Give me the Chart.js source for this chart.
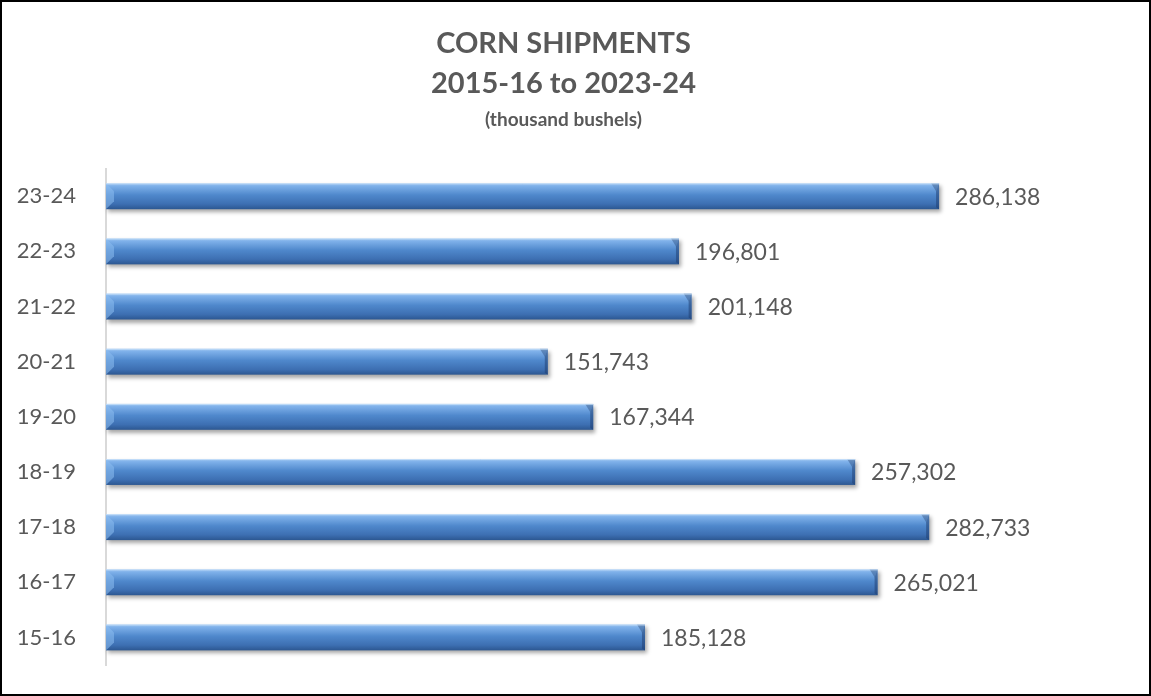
<!DOCTYPE html>
<html>
<head>
<meta charset="utf-8">
<script src="https://cdn.jsdelivr.net/npm/chart.js@4/dist/chart.umd.min.js"></script>
<style>
    html, body { margin: 0; padding: 0; background: #fff; }
    .frame {
        width: 1151px;
        height: 696px;
        box-sizing: border-box;
        border: 2px solid #000;
        background: #fff;
    }
    .frame canvas { display: block; }
</style>
</head>
<body>
<div class="frame">
    <canvas id="cornChart" width="1147" height="692"></canvas>
</div>
<script>
// Marketing years, oldest first (axis is reversed so 23-24 sits on top)
const seasons = ['15-16', '16-17', '17-18', '18-19', '19-20', '20-21', '21-22', '22-23', '23-24'];
const shipments = [185128, 265021, 282733, 257302, 167344, 151743, 201148, 196801, 286138];

const titleLines = ['CORN SHIPMENTS', '2015-16 to 2023-24'];
const subtitleText = '(thousand bushels)';

const textColor = '#595959';
const fontFamily = 'Lato, "Open Sans", sans-serif';

// Draws the glossy bevelled bars and the value labels next to them
const glossyBars = {
    id: 'glossyBars',
    afterDatasetsDraw(chart) {
        const ctx = chart.ctx;
        const meta = chart.getDatasetMeta(0);

        meta.data.forEach((bar, i) => {
            const { x, y, base, height } = bar.getProps(['x', 'y', 'base', 'height'], true);
            const left = Math.min(base, x);
            const right = Math.max(base, x);
            const top = y - height / 2;
            const w = right - left;

            ctx.save();
            // soft drop shadow
            ctx.shadowColor = 'rgba(0, 0, 0, 0.35)';
            ctx.shadowBlur = 4;
            ctx.shadowOffsetX = 2;
            ctx.shadowOffsetY = 3;

            const grad = ctx.createLinearGradient(0, top, 0, top + height);
            grad.addColorStop(0, '#a8ccf2');
            grad.addColorStop(0.1, '#7fb1ea');
            grad.addColorStop(0.45, '#4f88cc');
            grad.addColorStop(0.8, '#3d6fb2');
            grad.addColorStop(1, '#2c5791');
            ctx.fillStyle = grad;
            ctx.fillRect(left, top, w, height);
            ctx.restore();

            ctx.save();
            const bev = Math.min(8, height / 3);
            // darker bevel at the right end
            ctx.fillStyle = 'rgba(30, 60, 110, 0.5)';
            ctx.beginPath();
            ctx.moveTo(right, top);
            ctx.lineTo(right, top + height);
            ctx.lineTo(right - 3, top + height - 2);
            ctx.lineTo(right - 3, top + bev);
            ctx.closePath();
            ctx.fill();
            ctx.fillStyle = 'rgba(25, 55, 100, 0.35)';
            ctx.beginPath();
            ctx.moveTo(right, top);
            ctx.lineTo(right - bev, top);
            ctx.lineTo(right - 3, top + bev);
            ctx.closePath();
            ctx.fill();

            // lighter bevel at the left end
            ctx.fillStyle = 'rgba(140, 190, 240, 0.55)';
            ctx.beginPath();
            ctx.moveTo(left, top);
            ctx.lineTo(left + bev, top + bev);
            ctx.lineTo(left + bev, top + height - bev);
            ctx.lineTo(left, top + height);
            ctx.closePath();
            ctx.fill();

            // top highlight line
            ctx.strokeStyle = 'rgba(200, 225, 250, 0.8)';
            ctx.lineWidth = 1;
            ctx.beginPath();
            ctx.moveTo(left, top + 0.5);
            ctx.lineTo(right, top + 0.5);
            ctx.stroke();
            ctx.restore();

            // value label
            ctx.save();
            ctx.fillStyle = textColor;
            ctx.font = '23px ' + fontFamily;
            ctx.textAlign = 'left';
            ctx.textBaseline = 'middle';
            ctx.fillText(shipments[i].toLocaleString('en-US'), right + 16, y + 1);
            ctx.restore();
        });
    }
};

const chart = new Chart(document.getElementById('cornChart'), {
    type: 'bar',
    data: {
        labels: seasons,
        datasets: [{
            label: 'Corn shipments',
            data: shipments,
            backgroundColor: 'rgba(0,0,0,0)',
            borderWidth: 0,
            categoryPercentage: 1,
            barPercentage: 0.47
        }]
    },
    options: {
        indexAxis: 'y',
        responsive: false,
        animation: false,
        layout: {
            padding: { left: 0, right: 24, top: 0, bottom: 29 }
        },
        plugins: {
            legend: { display: false },
            tooltip: { enabled: false },
            title: {
                display: true,
                text: titleLines,
                color: textColor,
                font: { family: fontFamily, size: 29, weight: 'bold', lineHeight: 1.36 },
                padding: { top: 22, bottom: 6 }
            },
            subtitle: {
                display: true,
                text: subtitleText,
                color: textColor,
                font: { family: fontFamily, size: 19, weight: 'bold', lineHeight: 1.2 },
                padding: { top: 0, bottom: 37 }
            }
        },
        scales: {
            x: {
                display: false,
                min: 0,
                max: 350000
            },
            y: {
                reverse: true,
                grid: { display: false },
                border: { display: true, color: '#d9d9d9', width: 2 },
                ticks: {
                    color: textColor,
                    font: { family: fontFamily, size: 22 },
                    padding: 22
                },
                afterFit(scale) {
                    // fixed label column; drop the half-label padding so the
                    // plot area runs the full height like the original
                    scale.width = 104;
                    scale.paddingTop = 0;
                    scale.paddingBottom = 0;
                }
            }
        }
    },
    plugins: [glossyBars]
});
</script>
</body>
</html>
